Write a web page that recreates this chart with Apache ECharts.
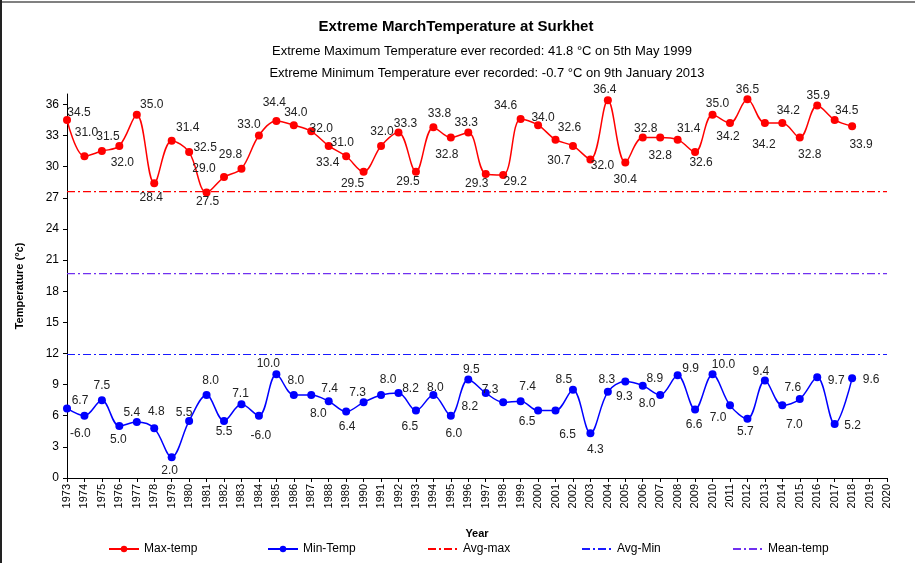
<!DOCTYPE html>
<html>
<head>
<meta charset="utf-8">
<title>Extreme March Temperature at Surkhet</title>
<script src="https://cdn.jsdelivr.net/npm/echarts@6/dist/echarts.min.js"></script>
<style>
  html, body { margin: 0; padding: 0; background: #fff; }
  #wrap { position: relative; width: 915px; height: 563px; }
  #chart { position: absolute; left: 0; top: 0; width: 915px; height: 563px; }
  .edge-top { position: absolute; left: 0; top: 1px; width: 915px; height: 2px; background: #808080; }
  .edge-left { position: absolute; left: 0; top: 0; width: 2px; height: 563px; background: #222; }
</style>
</head>
<body>
<div id="wrap">
  <div id="chart"></div>
  <div class="edge-top"></div>
  <div class="edge-left"></div>
</div>
<script>
// years on the axis (data stops at 2018)
const years = [];
for (let y = 1973; y <= 2020; y++) years.push(String(y));

const maxTemp = [34.5, 31.0, 31.5, 32.0, 35.0, 28.4, 32.5, 31.4, 27.5, 29.0, 29.8, 33.0, 34.4, 34.0, 33.4, 32.0,
  31.0, 29.5, 32.0, 33.3, 29.5, 33.8, 32.8, 33.3, 29.3, 29.2, 34.6, 34.0, 32.6, 32.0, 30.7, 36.4, 30.4,
  32.8, 32.8, 32.6, 31.4, 35.0, 34.2, 36.5, 34.2, 34.2, 32.8, 35.9, 34.5, 33.9];

// label texts as printed on the chart (some are shifted one point over)
const maxLabels = ['34.5', '31.0', '31.5', '32.0', '35.0', '28.4', '31.4', '32.5', '27.5', '29.0', '29.8', '33.0', '34.4', '34.0', '32.0', '33.4',
  '31.0', '29.5', '32.0', '33.3', '29.5', '33.8', '32.8', '33.3', '29.3', '29.2', '34.6', '34.0', '32.6', '30.7', '32.0', '36.4', '30.4',
  '32.8', '32.8', '31.4', '32.6', '35.0', '34.2', '36.5', '34.2', '34.2', '32.8', '35.9', '34.5', '33.9'];

const minTemp = [6.7, 6.0, 7.5, 5.0, 5.4, 4.8, 2.0, 5.5, 8.0, 5.5, 7.1, 6.0, 10.0, 8.0, 8.0, 7.4, 6.4,
  7.3, 8.0, 8.2, 6.5, 8.0, 6.0, 9.5, 8.2, 7.3, 7.4, 6.5, 6.5, 8.5, 4.3, 8.3, 9.3,
  8.9, 8.0, 9.9, 6.6, 10.0, 7.0, 5.7, 9.4, 7.0, 7.6, 9.7, 5.2, 9.6];

const minLabels = ['6.7', '-6.0', '7.5', '5.0', '5.4', '4.8', '2.0', '5.5', '8.0', '5.5', '7.1', '-6.0', '10.0', '8.0', '8.0', '7.4', '6.4',
  '7.3', '8.0', '8.2', '6.5', '8.0', '6.0', '9.5', '8.2', '7.3', '7.4', '6.5', '6.5', '8.5', '4.3', '8.3', '9.3',
  '8.9', '8.0', '9.9', '6.6', '10.0', '7.0', '5.7', '9.4', '7.0', '7.6', '9.7', '5.2', '9.6'];

// long-term averages, drawn as flat lines across the whole axis
const avgMax = 27.6;
const avgMin = 11.9;
const meanTemp = 19.7;

const legendNames = ['Max-temp', 'Min-Temp', 'Avg-max', 'Avg-Min', 'Mean-temp'];

// where each data label sits relative to its point (px)
const maxLabelOffset = [[12, -7], [2, -24], [6, -14], [3, 17], [15, -10], [-3, 14], [16, -13], [16, -4], [1, 9], [-20, -8],
  [-11, -14], [-10, -11], [-2, -18], [2, -12], [10, -3], [-1, 17], [-4, -14], [-11, 12], [1, -14], [7, -9], [-8, 10],
  [6, -14], [-4, 17], [-2, -10], [-9, 10], [12, 7], [-15, -13], [5, -7], [14, -12], [-14, 15], [12, 6], [-3, -11],
  [0, 17], [3, -9], [0, 18], [11, -11], [6, 11], [5, -11], [-2, 14], [0, -10], [-1, 22], [6, -12], [10, 17],
  [1, -10], [12, -9], [9, 19]];

const minLabelOffset = [[13, -8], [-4, 18], [0, -14], [-1, 14], [-5, -9], [2, -16], [-2, 13], [-5, -8], [4, -14], [0, 11],
  [-1, -11], [2, 20], [-8, -11], [2, -14], [7, 19], [1, -13], [1, 15], [-6, -10], [7, -15], [12, -4], [-6, 16],
  [2, -7], [3, 18], [3, -10], [-16, 14], [-13, -13], [7, -15], [-11, 11], [12, 24], [-9, -10], [5, 16], [-1, -12],
  [-1, 15], [12, -7], [-13, 9], [13, -7], [-1, 15], [11, -10], [-12, 12], [-2, 13], [-4, -9], [12, 19], [-7, -11],
  [19, 3], [18, 2], [19, 1]];

const legendLeft = [103, 262, 422, 576, 727];

const FONT = 'Liberation Sans, Arial, sans-serif';
const dashDot = [8, 3, 2, 3];

function pointsWithLabels(values, texts, offsets) {
  return values.map((v, i) => ({
    value: v,
    label: { formatter: texts[i], offset: offsets[i] }
  }));
}

function refLine(name, value, color) {
  return {
    name: name,
    type: 'line',
    data: years.map(() => value),
    symbol: 'none',
    silent: true,
    color: color,
    lineStyle: { color: color, width: 1.2, type: dashDot }
  };
}

// one legend per entry so they sit in evenly spaced slots
const legends = legendNames.map((name, i) => ({
  bottom: 3,
  left: legendLeft[i],
  itemWidth: 30,
  itemHeight: 8,
  itemGap: 4,
  textStyle: { fontSize: 12, color: '#000', fontFamily: FONT },
  data: [i < 2 ? name : { name: name, itemStyle: { opacity: 0 } }]
}));

const chart = echarts.init(document.getElementById('chart'));
chart.setOption({
  animation: false,
  backgroundColor: '#fff',
  textStyle: { fontFamily: FONT },
  title: [
    { text: 'Extreme MarchTemperature at Surkhet', left: 451, top: 14, textAlign: 'center',
      textStyle: { fontSize: 15, fontWeight: 'bold', color: '#000', fontFamily: FONT } },
    { text: 'Extreme Maximum Temperature ever recorded: 41.8 °C on 5th May 1999', left: 477, top: 40, textAlign: 'center',
      textStyle: { fontSize: 13, fontWeight: 'normal', color: '#000', fontFamily: FONT } },
    { text: 'Extreme Minimum Temperature ever recorded: -0.7 °C on 9th January 2013', left: 482, top: 62, textAlign: 'center',
      textStyle: { fontSize: 13, fontWeight: 'normal', color: '#000', fontFamily: FONT } }
  ],
  legend: legends,
  grid: { left: 67, right: 28, top: 94, bottom: 85 },
  xAxis: {
    type: 'category',
    data: years,
    boundaryGap: false,
    name: 'Year',
    nameLocation: 'middle',
    nameGap: 50,
    nameTextStyle: { fontSize: 11, fontWeight: 'bold', color: '#000' },
    axisLine: { lineStyle: { color: '#000', width: 1 } },
    axisTick: { show: true, length: 4, lineStyle: { color: '#000' } },
    axisLabel: { rotate: 90, fontSize: 11, color: '#000', margin: 6, interval: 0 }
  },
  yAxis: {
    type: 'value',
    min: 0,
    max: 37,
    interval: 3,
    name: 'Temperature (°c)',
    nameLocation: 'middle',
    nameGap: 42,
    nameTextStyle: { fontSize: 11, fontWeight: 'bold', color: '#000' },
    axisLine: { show: true, lineStyle: { color: '#000', width: 1 } },
    axisTick: { show: true, length: 4, lineStyle: { color: '#000' } },
    axisLabel: { fontSize: 12, color: '#000', margin: 8, showMaxLabel: false },
    splitLine: { show: false }
  },
  series: [
    refLine('Avg-max', avgMax, '#ff0000'),
    refLine('Avg-Min', avgMin, '#1a1aff'),
    refLine('Mean-temp', meanTemp, '#7030f0'),
    {
      name: 'Max-temp',
      type: 'line',
      data: pointsWithLabels(maxTemp, maxLabels, maxLabelOffset),
      smooth: 0.35,
      symbol: 'circle',
      symbolSize: 8,
      color: '#ff0000',
      lineStyle: { color: '#ff0000', width: 1.5 },
      label: { show: true, position: 'inside', fontSize: 12, color: '#222', fontFamily: FONT }
    },
    {
      name: 'Min-Temp',
      type: 'line',
      data: pointsWithLabels(minTemp, minLabels, minLabelOffset),
      smooth: 0.35,
      symbol: 'circle',
      symbolSize: 8,
      color: '#0000ff',
      lineStyle: { color: '#0000ff', width: 1.5 },
      label: { show: true, position: 'inside', fontSize: 12, color: '#222', fontFamily: FONT }
    }
  ]
});
</script>
</body>
</html>
